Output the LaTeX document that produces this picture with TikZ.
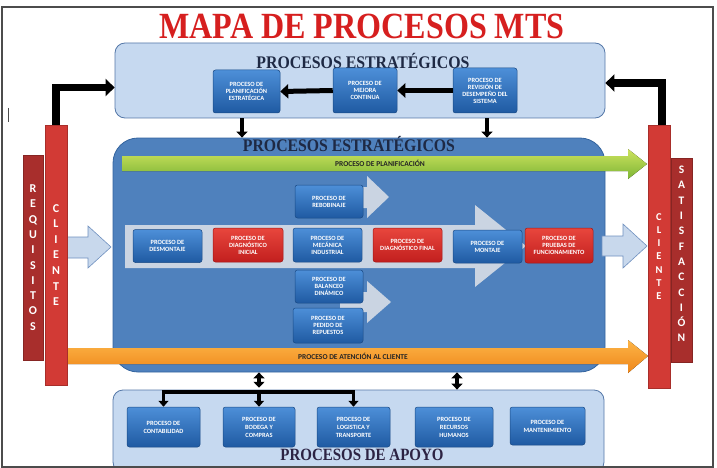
\documentclass[tikz,border=0pt]{standalone}
\usepackage{fontspec}
\usepackage{graphicx}
\setmainfont{Liberation Serif}
\newfontfamily\cfont{Carlito}
\usetikzlibrary{arrows.meta,calc}
\definecolor{lightbg}{HTML}{C6D9F0}
\definecolor{lightbd}{HTML}{5578A8}
\definecolor{mainbg}{HTML}{4F81BD}
\definecolor{mainbd}{HTML}{34649E}
\definecolor{pbT}{HTML}{4D8FD8}
\definecolor{pbB}{HTML}{1F5AA2}
\definecolor{pbD}{HTML}{1A4A85}
\definecolor{rbT}{HTML}{E8463D}
\definecolor{rbB}{HTML}{C21F1E}
\definecolor{rbD}{HTML}{A01818}
\definecolor{barRed}{HTML}{D23A35}
\definecolor{barDark}{HTML}{A82E2C}
\definecolor{grT}{HTML}{CDE35E}
\definecolor{grB}{HTML}{7DB536}
\definecolor{orT}{HTML}{FDB547}
\definecolor{orB}{HTML}{EE861A}
\definecolor{ltarrow}{HTML}{C8D8EC}
\definecolor{ltarrowbd}{HTML}{6F90BF}
\definecolor{rowarrow}{HTML}{CAD4E2}
\definecolor{titleRed}{HTML}{D61F1F}
\definecolor{navy}{HTML}{1E2944}
\definecolor{apoyo}{HTML}{2C2343}
\begin{document}
\begin{tikzpicture}[x=1pt,y=-1pt,
  pbox/.style={rounded corners=2.5pt, draw=pbD, line width=0.5pt, top color=pbT, bottom color=pbB,
    text=white, align=center, inner sep=0pt, font=\cfont\bfseries\fontsize{6.4}{7}\selectfont},
  rbox/.style={pbox, draw=rbD, top color=rbT, bottom color=rbB},
  lbox/.style={rounded corners=10pt, draw=lightbd, line width=0.8pt, fill=lightbg},
  redbar/.style={fill=barRed, draw=barRed!80!black, line width=0.4pt, text=white, align=center, inner sep=0pt},
  darkbar/.style={redbar, fill=barDark, draw=barDark!80!black},
  bka/.style={line width=5pt, -{Triangle[length=8pt,width=14pt]}},
  bkd/.style={line width=4pt, -{Triangle[length=6pt,width=11pt]}},
  elb/.style={line width=7.5pt, -{Triangle[length=9pt,width=17pt]}},
  brk/.style={line width=3.5pt, -{Triangle[length=6pt,width=10pt]}},
  dbl/.style={line width=4pt, {Triangle[length=6pt,width=11pt]}-{Triangle[length=6pt,width=11pt]}},
  sectitle/.style={inner sep=0pt, font=\bfseries},
  stxt/.style={font=\cfont\bfseries\fontsize{6.4}{8}\selectfont}
]
\useasboundingbox (0,0) rectangle (717,468);

% title
\node[inner sep=0pt, text=titleRed] (title) at (362,26)
  {\scalebox{1}[1.15]{\resizebox{405pt}{!}{\bfseries MAPA DE PROCESOS MTS}}};

% ===== top strategic box =====
\node[lbox, minimum width=490, minimum height=75] (topbox) at (360,80.5) {};
\node[sectitle, text=navy] (toptitle) at (363,60.5)
  {\scalebox{1}[1.12]{\resizebox{213pt}{!}{PROCESOS ESTRATÉGICOS}}};
\node[pbox, minimum width=67, minimum height=43] (p1) at (246.5,91.5) {PROCESO DE\\PLANIFICACIÓN\\ESTRATÉGICA};
\node[pbox, minimum width=64, minimum height=45] (p2) at (365,90.5) {PROCESO DE\\MEJORA\\CONTINUA};
\node[pbox, minimum width=64, minimum height=45] (p3) at (485,90.5) {PROCESO DE\\REVISIÓN DE\\DESEMPEÑO DEL\\SISTEMA};
\draw[bka] (p3.west) -- (p2.east);
\draw[bka] (p2.west) -- (p1.east);

% ===== main box =====
\node[rounded corners=25pt, draw=mainbd, line width=0.8pt, fill=mainbg,
  minimum width=492, minimum height=234] (main) at (359,255) {};
\node[sectitle, text=navy] (maintitle) at (349,144.5)
  {\scalebox{1}[1.12]{\resizebox{212pt}{!}{PROCESOS ESTRATÉGICOS}}};

\coordinate (da) at (242,128);
\coordinate (db) at (487,128);
\draw[bkd] (da |- topbox.south) -- (da |- main.north);
\draw[bkd] (db |- topbox.south) -- (db |- main.north);

% green arrow
\fill[top color=grT, bottom color=grB] (122,156) -- (628,156) -- (628,149) -- (647,164) -- (628,179) -- (628,171) -- (122,171) -- cycle;
\node[inner sep=0pt, font=\cfont\bfseries\fontsize{7.5}{8}\selectfont, text=black!85] (plan) at (380,163.5) {PROCESO DE PLANIFICACIÓN};

% big row arrow and branch arrows
\fill[rowarrow] (125,225) -- (475,225) -- (475,205) -- (526,246) -- (475,287) -- (475,268) -- (125,268) -- cycle;
\fill[rowarrow] (340,187) -- (367,187) -- (367,176) -- (389,197) -- (367,218) -- (367,208) -- (340,208) -- cycle;
\fill[rowarrow] (340,292) -- (367,292) -- (367,281) -- (391,302) -- (367,323) -- (367,312) -- (340,312) -- cycle;

% row boxes
\node[pbox, minimum width=69, minimum height=33] (r1) at (167.5,246) {PROCESO DE\\DESMONTAJE};
\node[rbox, minimum width=70, minimum height=34] (r2) at (248,245) {PROCESO DE\\DIAGNÓSTICO\\INICIAL};
\node[pbox, minimum width=69, minimum height=34] (r3) at (327.5,245) {PROCESO DE\\MECÁNICA\\INDUSTRIAL};
\node[rbox, minimum width=69, minimum height=34] (r4) at (407.5,245) {PROCESO DE\\DIAGNÓSTICO FINAL};
\node[pbox, minimum width=69, minimum height=33] (r5) at (487.5,246.5) {PROCESO DE\\MONTAJE};
\node[rbox, minimum width=68, minimum height=35] (r6) at (559,245.5) {PROCESO DE\\PRUEBAS DE\\FUNCIONAMIENTO};

\node[pbox, minimum width=68, minimum height=33] (b1) at (329,201.5) {PROCESO DE\\REBOBINAJE};
\node[pbox, minimum width=68, minimum height=33] (b2) at (329,286.5) {PROCESO DE\\BALANCEO\\DINÁMICO};
\node[pbox, minimum width=70, minimum height=35] (b3) at (328,325.5) {PROCESO DE\\PEDIDO DE\\REPUESTOS};

% orange arrow
\fill[top color=orT, bottom color=orB] (60,348) -- (628,348) -- (628,340) -- (648,356) -- (628,373) -- (628,364) -- (60,364) -- cycle;
\node[inner sep=0pt, font=\cfont\bfseries\fontsize{7.5}{8}\selectfont, text=black!85] (aten) at (353,356) {PROCESO DE ATENCIÓN AL CLIENTE};

% input / output arrows
\draw[fill=ltarrow, draw=ltarrowbd, line width=0.6pt] (67,237) -- (88,237) -- (88,226) -- (111,247) -- (88,268) -- (88,258) -- (67,258) -- cycle;
\draw[fill=ltarrow, draw=ltarrowbd, line width=0.6pt] (602,236) -- (623,236) -- (623,224) -- (647,246) -- (623,268) -- (623,256) -- (602,256) -- cycle;

% red bars
\node[darkbar, minimum width=20, minimum height=205, font=\cfont\bfseries\fontsize{12}{15.3}\selectfont] (reqL) at (33,257.5)
  {R\\E\\Q\\U\\I\\S\\I\\T\\O\\S};
\node[redbar, minimum width=22, minimum height=260, font=\cfont\bfseries\fontsize{12}{15.6}\selectfont] (cliL) at (56,255)
  {C\\L\\I\\E\\N\\T\\E};
\node[redbar, minimum width=22, minimum height=263, font=\cfont\bfseries\fontsize{10.5}{13.3}\selectfont] (cliR) at (659,256.5)
  {C\\L\\I\\E\\N\\T\\E};
\node[darkbar, minimum width=21, minimum height=204] (satR) at (681.5,260) {};
\node[inner sep=0pt, text=white, align=center, font=\cfont\bfseries\fontsize{11.5}{15.3}\selectfont] (satT) at (681.5,254)
  {S\\A\\T\\I\\S\\F\\A\\C\\C\\I\\Ó\\N};

% elbow arrows
\draw[elb] (cliL.north) |- ($(topbox.west)+(0,7)$);
\draw[elb] ($(cliR.north)+(3,0)$) |- ($(topbox.east)+(0,2.5)$);

% ===== support box =====
\node[lbox, minimum width=491, minimum height=82] (sup) at (358.5,431) {};
\node[sectitle, text=apoyo] (suptitle) at (362,455)
  {\scalebox{1}[1.15]{\resizebox{163pt}{!}{PROCESOS DE APOYO}}};
\node[pbox, stxt, minimum width=73, minimum height=40] (s1) at (163.5,427) {PROCESO DE\\CONTABILIDAD};
\node[pbox, stxt, minimum width=72, minimum height=40] (s2) at (259,427) {PROCESO DE\\BODEGA Y\\COMPRAS};
\node[pbox, stxt, minimum width=73, minimum height=40] (s3) at (353.5,427) {PROCESO DE\\LOGISTICA Y\\TRANSPORTE};
\node[pbox, stxt, minimum width=78, minimum height=40] (s4) at (454,427) {PROCESO DE\\RECURSOS\\HUMANOS};
\node[pbox, stxt, minimum width=75, minimum height=38] (s5) at (547.5,426) {PROCESO DE\\MANTENIMIENTO};

\coordinate (bj) at ($(s2.north)+(0,-15)$);
\coordinate (bj0) at ($(s2.north)+(0,-19)$);
\draw[dbl] (bj0 |- main.south) -- (bj0);
\draw[line width=3.5pt] ($(bj -| s1.north)+(-1.75,0)$) -- ($(bj -| s3.north)+(1.75,0)$);
\draw[brk] (bj -| s1.north) -- (s1.north);
\draw[brk] (bj) -- (s2.north);
\draw[brk] (bj -| s3.north) -- (s3.north);
\coordinate (dj) at (457,390);
\draw[dbl] (dj |- main.south) -- (dj |- sup.north);

% frame
\draw[gray!60!black, line width=1.2pt] (2,7) rectangle (713,467);
\draw[black!70, line width=0.8pt] (8,108) -- (8,122);
\end{tikzpicture}
\end{document}
